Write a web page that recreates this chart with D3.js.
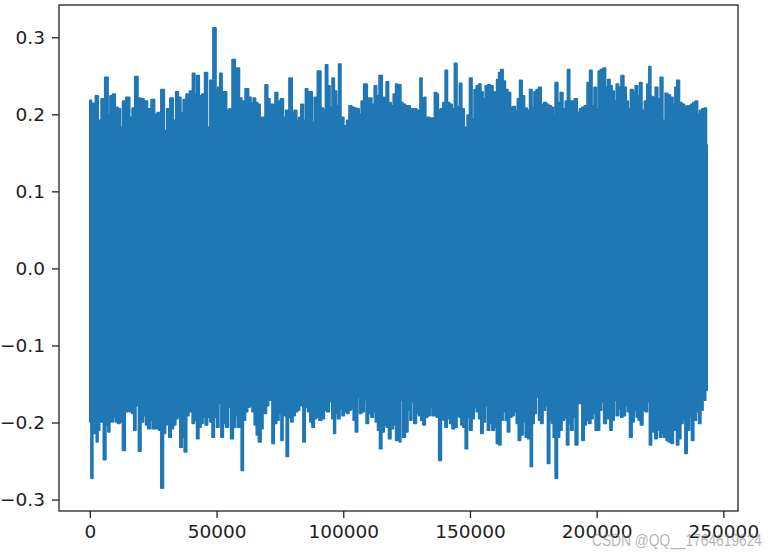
<!DOCTYPE html>
<html><head><meta charset="utf-8">
<script src="https://cdn.jsdelivr.net/npm/d3@7"></script>
<style>html,body{margin:0;padding:0;background:#fff;} svg{display:block;}</style>
</head><body>
<svg id="chart" width="776" height="553"></svg>
<script>
// ---- data (times in thousands of samples, values = amplitude) ----
const xTickValues = [0, 50000, 100000, 150000, 200000, 250000];
const yTickValues = [-0.3, -0.2, -0.1, 0.0, 0.1, 0.2, 0.3];
const SAMPLES_PER_UNIT = 1000;

const upperTimeA = [0,0.3,0.9,1.8,2.6,3.9,5.0,6.8,7.5,8.4,9.5,10.5,11.6,12.5,13.4,15.1,16.3,17.1,18.4,19.5,20.6,22.1,23.3,25.1,25.9,27.2,28.9,29.8,30.9,32.3,33.4,34.4,35.4,36.4,37.3,38.7,40.0,41.0,41.8,42.6,43.7,44.7,45.9,46.9,47.9,49.3,50.2,50.9,51.7,52.6,53.5,54.4,55.5,56.8,57.9,58.6,59.4,60.5,62.1,63.1,64.0,65.0,65.7,66.7,67.6,68.6,69.7,70.6,71.5,72.6,73.6,74.6,75.9,76.8,77.8,79.4,80.2,81.1,82.1,82.8,83.8,84.7,85.5,86.4,87.3,88.1,89.0,90.6,91.7,92.6,93.4,94.3,95.2,96.0,96.9,97.8,98.6,99.5,100.9,101.8,102.8,103.9,104.8,105.7,106.8,107.4,108.8,110.1,110.7,111.8,112.7,113.6,114.7,116.0,116.6,117.3,118.4,119.3,120.2,121.2];
const upperValA = [0.218,0.218,0.214,0.214,0.224,0.192,0.220,0.248,0.200,0.224,0.226,0.209,0.207,0.183,0.217,0.222,0.196,0.208,0.249,0.221,0.220,0.217,0.207,0.219,0.200,0.202,0.232,0.179,0.207,0.221,0.192,0.229,0.222,0.202,0.219,0.226,0.230,0.253,0.226,0.250,0.224,0.226,0.254,0.183,0.244,0.312,0.232,0.235,0.253,0.229,0.229,0.205,0.207,0.271,0.260,0.260,0.221,0.217,0.233,0.222,0.215,0.221,0.215,0.213,0.196,0.196,0.238,0.220,0.213,0.213,0.228,0.217,0.220,0.196,0.205,0.247,0.202,0.205,0.192,0.196,0.213,0.192,0.233,0.229,0.229,0.189,0.222,0.256,0.208,0.205,0.264,0.237,0.209,0.247,0.230,0.211,0.265,0.196,0.185,0.192,0.211,0.209,0.208,0.207,0.200,0.217,0.239,0.221,0.221,0.213,0.237,0.224,0.250,0.222,0.221,0.242,0.215,0.211,0.226,0.239];

const upperTimeB = [121.6,121.9,122.3,123.1,124.0,125.0,126.0,126.7,127.3,128.0,128.6,129.3,130.0,130.6,131.5,132.3,132.8,133.5,134.6,135.5,136.5,137.2,137.8,138.9,139.8,140.7,141.5,142.5,143.4,144.4,145.3,146.4,147.1,148.4,149.4,150.3,151.3,152.0,153.0,153.9,154.7,155.6,156.5,157.6,158.6,159.5,160.2,160.9,161.8,162.6,163.5,164.4,165.5,166.5,167.4,168.4,169.1,170.1,171.0,172.0,173.1,174.0,174.9,175.7,176.6,177.6,178.6,179.7,180.6,181.5,182.6,183.2,184.1,185.2,186.1,187.2,188.1,188.9,189.8,190.7,191.8,192.8,193.7,194.7,195.7,196.8,197.7,198.6,199.4,200.3,201.0,202.0,203.1,203.9,204.9,205.6,206.5,207.3,208.2,209.1,210.2,211.2,212.1,212.8,213.9,214.8,215.7,216.5,217.4,218.3,219.4,220.3,221.0,221.7,222.7,223.6,224.6,225.6,226.6,227.5,228.6,229.6,230.6,231.2,232.1,233.2,234.1,235.2,236.1,236.7,237.5,238.4,239.4,240.2,241.1,242.0,243.0,243.6];
const upperValB = [0.205,0.207,0.238,0.215,0.213,0.211,0.211,0.198,0.207,0.198,0.207,0.205,0.196,0.247,0.221,0.222,0.189,0.196,0.195,0.195,0.228,0.226,0.205,0.207,0.215,0.257,0.215,0.213,0.207,0.266,0.210,0.240,0.207,0.183,0.199,0.247,0.194,0.232,0.237,0.239,0.229,0.220,0.237,0.238,0.237,0.229,0.220,0.245,0.254,0.258,0.243,0.232,0.228,0.209,0.210,0.204,0.220,0.244,0.224,0.208,0.205,0.232,0.208,0.229,0.232,0.235,0.213,0.215,0.213,0.211,0.209,0.198,0.241,0.215,0.228,0.207,0.217,0.258,0.217,0.217,0.220,0.202,0.207,0.209,0.211,0.241,0.257,0.211,0.235,0.207,0.256,0.258,0.260,0.235,0.245,0.237,0.230,0.217,0.239,0.235,0.250,0.235,0.217,0.207,0.232,0.229,0.237,0.224,0.241,0.205,0.217,0.239,0.262,0.223,0.222,0.235,0.220,0.248,0.192,0.227,0.225,0.222,0.213,0.235,0.244,0.215,0.213,0.210,0.211,0.185,0.213,0.215,0.217,0.200,0.205,0.207,0.208,0.160];

const lowerTimeA = [0,0.2,0.7,1.6,2.2,2.9,3.5,4.2,4.9,5.8,6.8,7.5,8.2,8.8,9.7,10.5,11.4,12.4,13.4,14.5,15.4,16.0,17.1,17.6,18.7,19.7,20.6,21.6,22.4,23.3,24.2,25.0,25.9,26.8,27.6,28.5,29.5,30.2,30.8,31.6,32.5,33.4,34.4,35.1,36.0,36.8,37.7,38.7,39.4,40.0,40.8,41.7,42.6,43.4,44.3,45.0,46.0,46.9,47.9,48.6,49.6,50.5,51.3,52.2,53.1,54.2,55.1,56.1,57.1,57.9,58.8,59.4,60.1,61.0,61.8,62.7,63.6,64.4,65.4,66.0,67.1,68.0,68.6,69.3,70.0,71.0,71.5,72.3,73.2,74.2,75.0,75.9,76.5,77.2,77.8,78.9,79.8,80.5,81.5,82.4,83.1,83.8,84.4,85.5,86.4,87.3,88.1,89.0,89.9,91.0,92.0,93.0,93.9,95.0,96.0,96.5,97.3,98.2,99.2,99.9,100.9,101.8,102.6,103.5,104.4,105.2,106.1,106.8,107.8,108.7,109.4,110.5,111.4,112.3,113.1,114.0,114.7,115.7,116.6,117.5,118.3,119.3,120.2,121.2];
const lowerValA = [-0.199,-0.197,-0.272,-0.214,-0.214,-0.225,-0.210,-0.188,-0.199,-0.248,-0.203,-0.212,-0.188,-0.199,-0.193,-0.199,-0.201,-0.199,-0.236,-0.186,-0.184,-0.186,-0.188,-0.210,-0.178,-0.237,-0.199,-0.191,-0.203,-0.208,-0.197,-0.208,-0.208,-0.208,-0.210,-0.285,-0.214,-0.203,-0.201,-0.219,-0.208,-0.203,-0.195,-0.191,-0.232,-0.219,-0.238,-0.191,-0.186,-0.184,-0.201,-0.197,-0.221,-0.206,-0.201,-0.193,-0.203,-0.193,-0.199,-0.219,-0.193,-0.206,-0.175,-0.219,-0.201,-0.206,-0.180,-0.221,-0.206,-0.191,-0.206,-0.191,-0.262,-0.197,-0.186,-0.180,-0.178,-0.186,-0.203,-0.216,-0.225,-0.208,-0.182,-0.188,-0.178,-0.171,-0.162,-0.227,-0.201,-0.197,-0.188,-0.223,-0.167,-0.191,-0.244,-0.193,-0.199,-0.191,-0.186,-0.184,-0.178,-0.169,-0.225,-0.180,-0.186,-0.199,-0.206,-0.195,-0.193,-0.197,-0.195,-0.184,-0.186,-0.173,-0.195,-0.214,-0.188,-0.195,-0.182,-0.191,-0.186,-0.188,-0.184,-0.182,-0.197,-0.212,-0.167,-0.188,-0.186,-0.171,-0.201,-0.188,-0.193,-0.186,-0.199,-0.210,-0.234,-0.212,-0.203,-0.206,-0.221,-0.208,-0.203,-0.223];

const lowerTimeB = [121.6,121.9,122.3,123.1,124.0,125.0,126.0,126.7,127.3,128.4,129.3,130.2,131.0,131.9,132.8,133.9,134.6,135.5,136.3,137.2,138.2,139.2,139.8,140.5,141.5,142.5,143.4,144.4,145.3,146.1,146.8,147.7,148.6,149.4,150.3,151.3,152.0,153.0,153.9,154.7,155.6,156.5,157.3,158.2,159.2,160.0,160.9,161.8,162.6,163.5,164.4,165.2,166.1,167.0,167.8,168.8,169.4,170.5,171.4,172.3,173.4,174.3,174.9,175.7,176.6,177.6,178.3,179.3,180.2,181.0,181.9,182.6,183.2,184.1,184.9,185.8,186.8,187.8,188.5,189.4,190.2,191.1,192.0,193.1,193.7,194.7,195.4,196.4,197.3,198.1,199.0,199.9,200.7,201.6,202.3,203.3,204.3,204.9,205.6,206.5,207.3,208.2,209.1,209.9,210.8,211.8,212.5,213.5,214.4,215.2,216.1,216.8,217.8,218.7,219.6,220.4,221.3,222.0,222.7,223.3,224.4,225.3,226.0,227.0,227.9,228.8,229.9,230.6,231.2,231.9,232.8,233.6,234.5,235.2,236.2,237.1,237.8,238.8,239.8,240.7,241.5,242.4,243.6];
const lowerValB = [-0.175,-0.201,-0.225,-0.171,-0.219,-0.212,-0.184,-0.197,-0.173,-0.201,-0.188,-0.191,-0.197,-0.203,-0.193,-0.191,-0.180,-0.191,-0.191,-0.193,-0.249,-0.195,-0.197,-0.206,-0.195,-0.201,-0.208,-0.206,-0.191,-0.193,-0.203,-0.206,-0.234,-0.193,-0.210,-0.195,-0.180,-0.186,-0.195,-0.214,-0.199,-0.178,-0.210,-0.201,-0.210,-0.206,-0.227,-0.229,-0.197,-0.186,-0.197,-0.212,-0.193,-0.191,-0.186,-0.201,-0.223,-0.216,-0.199,-0.219,-0.221,-0.257,-0.201,-0.188,-0.167,-0.197,-0.201,-0.184,-0.178,-0.253,-0.197,-0.201,-0.219,-0.272,-0.219,-0.210,-0.197,-0.193,-0.229,-0.201,-0.210,-0.193,-0.229,-0.175,-0.175,-0.223,-0.203,-0.197,-0.201,-0.195,-0.188,-0.210,-0.210,-0.184,-0.173,-0.201,-0.195,-0.186,-0.210,-0.197,-0.171,-0.191,-0.182,-0.193,-0.191,-0.178,-0.186,-0.219,-0.199,-0.184,-0.193,-0.197,-0.203,-0.184,-0.186,-0.173,-0.229,-0.208,-0.212,-0.221,-0.210,-0.219,-0.214,-0.219,-0.223,-0.225,-0.227,-0.206,-0.210,-0.229,-0.221,-0.201,-0.195,-0.240,-0.210,-0.193,-0.223,-0.197,-0.186,-0.201,-0.184,-0.171,-0.158];

const watermark = "CSDN @QQ__1764619624";

// ---- drawing ----
const svg = d3.select("#chart");
const plot = {left: 59, right: 738, top: 5, bottom: 511};
const FONT = "'DejaVu Sans', sans-serif";

const pairs = (ts, vs) => ts.slice(0, Math.min(ts.length, vs.length))
  .map((t, i) => ({t: t * SAMPLES_PER_UNIT, v: vs[i]}));
const upper = pairs(upperTimeA, upperValA).concat(pairs(upperTimeB, upperValB)).sort((a, b) => a.t - b.t);
const lower = pairs(lowerTimeA, lowerValA).concat(pairs(lowerTimeB, lowerValB)).sort((a, b) => a.t - b.t);
const all = upper.concat(lower);

const [t0, t1] = d3.extent(all, d => d.t);
const [v0, v1] = d3.extent(all, d => d.v);
const mx = (t1 - t0) * 0.05, my = (v1 - v0) * 0.05;

const x = d3.scaleLinear().domain([t0 - mx, t1 + mx]).range([plot.left, plot.right]);
const y = d3.scaleLinear().domain([v0 - my, v1 + my]).range([plot.bottom, plot.top]);

svg.append("defs").append("clipPath").attr("id", "clip")
  .append("rect").attr("x", plot.left).attr("y", plot.top)
  .attr("width", plot.right - plot.left).attr("height", plot.bottom - plot.top);

const outline = upper.concat(lower.slice().reverse());
const line = d3.line().x(d => x(d.t)).y(d => y(d.v)).curve(d3.curveStep);

svg.append("path")
  .attr("clip-path", "url(#clip)")
  .attr("d", line(outline) + "Z")
  .attr("fill", "#1f77b4")
  .attr("stroke", "#1f77b4")
  .attr("stroke-width", 1.8)
  .attr("stroke-linejoin", "round")
  .attr("stroke-linecap", "round");

// axes
const gx = svg.append("g").attr("transform", `translate(0,${plot.bottom})`)
  .call(d3.axisBottom(x).tickValues(xTickValues).tickFormat(d3.format("d")).tickSize(7).tickPadding(7));
const gy = svg.append("g").attr("transform", `translate(${plot.left},0)`)
  .call(d3.axisLeft(y).tickValues(yTickValues).tickFormat(d3.format(".1f")).tickSize(7).tickPadding(7));
[gx, gy].forEach(g => {
  g.select(".domain").remove();
  g.selectAll(".tick line").attr("stroke", "#222").attr("stroke-width", 1.3);
  g.selectAll(".tick text").attr("fill", "#222").style("font-family", FONT).style("font-size", "18.5px");
});

svg.append("rect")
  .attr("x", plot.left).attr("y", plot.top)
  .attr("width", plot.right - plot.left).attr("height", plot.bottom - plot.top)
  .attr("fill", "none").attr("stroke", "#222").attr("stroke-width", 1.3);

svg.append("text")
  .attr("x", 592).attr("y", 546)
  .attr("textLength", 170).attr("lengthAdjust", "spacingAndGlyphs")
  .style("font-family", "'Liberation Sans', Arial, sans-serif")
  .style("font-size", "17px")
  .attr("fill", "rgba(130,130,130,0.6)")
  .text(watermark);
</script>
</body></html>
